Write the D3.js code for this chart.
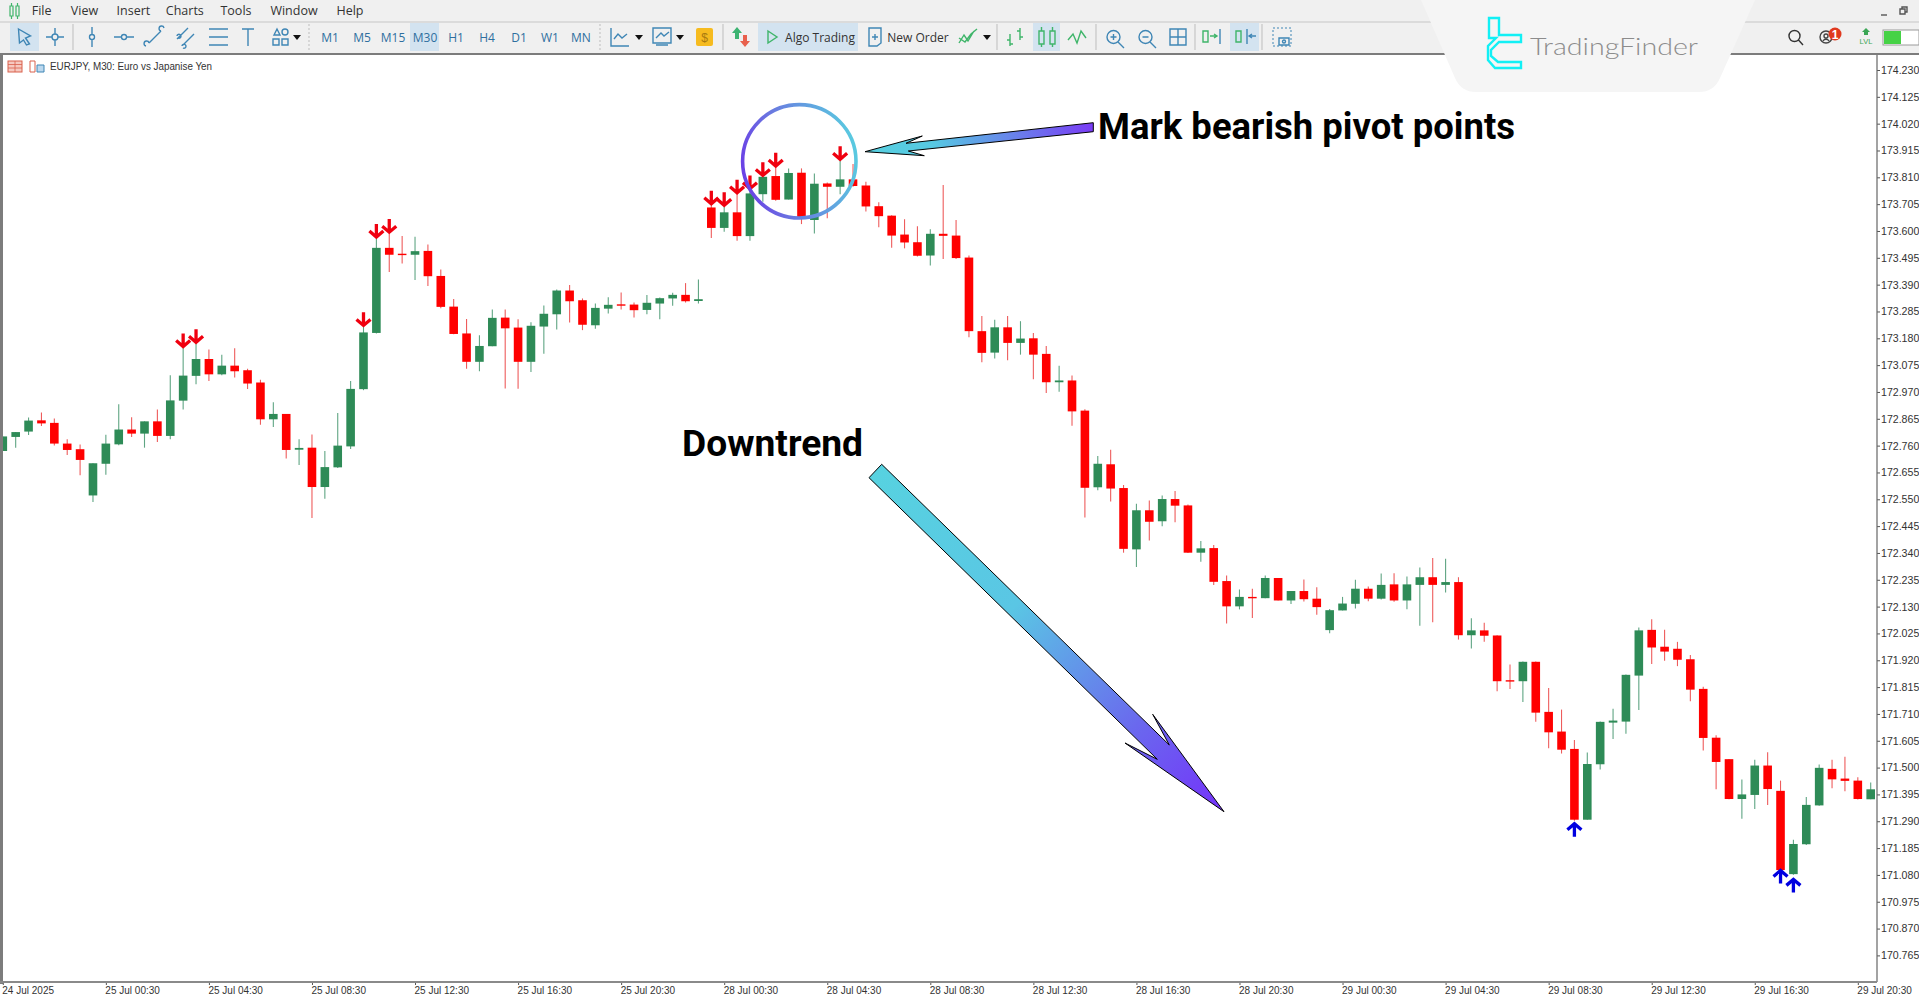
<!DOCTYPE html>
<html>
<head>
<meta charset="utf-8">
<script src="https://cdn.jsdelivr.net/npm/d3@7"></script>
<style>
  html, body { margin: 0; padding: 0; background: #fff; overflow: hidden; }
  svg { display: block; }
  text { font-family: "Liberation Sans", sans-serif; }
</style>
</head>
<body>
<div id="chart"></div>
<script>
// EURJPY M30 candles
const opens = [172.739,172.794,172.815,172.859,172.849,172.768,172.746,172.565,172.689,172.765,172.823,172.807,172.855,172.798,172.936,173.033,173.099,173.039,173.073,173.055,173.007,172.863,172.884,172.744,172.752,172.598,172.675,172.757,172.981,173.201,173.534,173.511,173.507,173.522,173.424,173.304,173.199,173.088,173.149,173.261,173.222,173.088,173.226,173.274,173.367,173.329,173.231,173.296,173.313,173.312,173.291,173.316,173.336,173.350,173.326,173.692,173.612,173.673,173.580,173.744,173.815,173.723,173.828,173.643,173.786,173.773,173.802,173.778,173.697,173.660,173.586,173.556,173.504,173.589,173.582,173.496,173.208,173.124,173.223,173.162,173.180,173.119,173.008,173.015,172.897,172.597,172.687,172.594,172.354,172.507,172.464,172.551,172.526,172.341,172.359,172.230,172.131,172.168,172.163,172.242,172.154,172.191,172.161,172.038,172.115,172.141,172.200,172.161,172.217,172.154,172.215,172.245,172.215,172.226,172.018,172.037,172.017,171.842,171.838,171.914,171.718,171.641,171.573,171.296,171.513,171.676,171.680,171.860,172.039,171.973,171.965,171.924,171.808,171.617,171.533,171.377,171.393,171.508,171.409,171.083,171.200,171.352,171.495,171.457,171.449,171.376];
const highs = [172.796,172.813,172.870,172.890,172.866,172.785,172.764,172.691,172.803,172.922,172.871,172.855,172.901,173.035,173.142,173.159,173.136,173.116,173.141,173.061,173.018,172.930,172.884,172.785,172.804,172.739,172.888,173.013,173.225,173.571,173.590,173.580,173.577,173.547,173.449,173.334,173.256,173.192,173.293,173.293,173.255,173.243,173.308,173.371,173.389,173.336,173.316,173.341,173.359,173.320,173.349,173.340,173.358,173.396,173.410,173.701,173.695,173.744,173.760,173.812,173.849,173.845,173.845,173.825,173.790,173.875,173.862,173.793,173.712,173.662,173.646,173.619,173.607,173.780,173.643,173.504,173.267,173.253,173.267,173.247,173.201,173.150,173.073,173.034,172.902,172.719,172.744,172.606,172.533,172.545,172.565,172.582,172.530,172.387,172.371,172.252,172.197,172.200,172.252,172.242,172.191,172.236,172.206,172.121,172.168,172.235,172.209,172.260,172.261,172.248,172.283,172.320,172.317,172.245,172.084,172.067,172.018,171.903,171.915,171.915,171.811,171.727,171.608,171.559,171.680,171.730,171.864,172.048,172.081,172.039,171.992,171.941,171.816,171.627,171.534,171.453,171.531,171.560,171.449,171.218,171.385,171.512,171.531,171.542,171.462,171.442];
const lows = [172.739,172.752,172.802,172.837,172.760,172.723,172.644,172.539,172.646,172.761,172.794,172.752,172.774,172.785,172.901,173.000,173.013,173.035,173.027,172.982,172.842,172.833,172.710,172.684,172.477,172.552,172.672,172.747,172.977,173.199,173.439,173.473,173.408,173.385,173.298,173.196,173.061,173.051,173.149,172.984,172.983,173.048,173.120,173.214,173.242,173.212,173.217,173.277,173.293,173.261,173.274,173.255,173.307,173.320,173.316,173.573,173.597,173.562,173.562,173.714,173.718,173.723,173.627,173.590,173.650,173.744,173.773,173.676,173.615,173.534,173.532,173.500,173.465,173.490,173.490,173.184,173.086,173.101,173.094,173.116,173.020,172.966,172.971,172.838,172.479,172.585,172.541,172.341,172.285,172.389,172.444,172.460,172.340,172.306,172.215,172.064,172.119,172.085,172.163,172.154,172.140,172.150,172.098,172.026,172.115,172.123,172.151,172.158,172.149,172.120,172.055,172.069,172.185,172.001,171.966,171.992,171.799,171.808,171.757,171.679,171.576,171.555,171.292,171.296,171.493,171.612,171.632,171.725,171.905,171.918,171.897,171.760,171.567,171.415,171.376,171.300,171.338,171.354,171.094,171.081,171.197,171.351,171.419,171.407,171.375,171.376];
const closes = [172.796,172.813,172.858,172.847,172.768,172.743,172.704,172.691,172.768,172.823,172.807,172.855,172.798,172.937,173.034,173.099,173.039,173.073,173.051,173.003,172.863,172.884,172.743,172.751,172.598,172.676,172.760,172.982,173.203,173.534,173.507,173.507,173.521,173.423,173.303,173.197,173.088,173.150,173.260,173.219,173.088,173.229,173.276,173.367,173.325,173.233,173.299,173.311,173.310,173.290,173.319,173.337,173.350,173.325,173.333,173.612,173.673,173.580,173.747,173.812,173.722,173.827,173.649,173.785,173.773,173.802,173.776,173.696,173.658,173.582,173.555,173.503,173.589,173.581,173.494,173.208,173.123,173.223,173.162,173.179,173.116,173.008,173.015,172.894,172.595,172.689,172.592,172.356,172.507,172.462,172.551,172.525,172.341,172.358,172.227,172.131,172.168,172.163,172.242,172.154,172.191,172.159,172.128,172.116,172.142,172.200,172.161,172.215,172.154,172.217,172.245,172.215,172.226,172.018,172.037,172.016,171.838,171.837,171.914,171.715,171.638,171.570,171.296,171.514,171.679,171.684,171.863,172.037,171.970,171.954,171.922,171.805,171.616,171.522,171.377,171.395,171.508,171.416,171.099,171.201,171.354,171.499,171.454,171.448,171.377,171.415];

// pivot indicator output: bars that got an arrow
const bearishPivots = [14,15,28,29,30,55,56,57,58,59,60,65];
const bullishPivots = [122,138,139];
const bullishPivotPrices = [171.286,171.103,171.068];

const priceTicks = [174.230,174.125,174.020,173.915,173.810,173.705,173.600,173.495,173.390,173.285,173.180,173.075,172.970,172.865,172.760,172.655,172.550,172.445,172.340,172.235,172.130,172.025,171.920,171.815,171.710,171.605,171.500,171.395,171.290,171.185,171.080,170.975,170.870,170.765];
const timeTickBars = [0,8,16,24,32,40,48,56,64,72,80,88,96,104,112,120,128,136,144];
const timeTickLabels = ['24 Jul 2025','25 Jul 00:30','25 Jul 04:30','25 Jul 08:30','25 Jul 12:30','25 Jul 16:30','25 Jul 20:30','28 Jul 00:30','28 Jul 04:30','28 Jul 08:30','28 Jul 12:30','28 Jul 16:30','28 Jul 20:30','29 Jul 00:30','29 Jul 04:30','29 Jul 08:30','29 Jul 12:30','29 Jul 16:30','29 Jul 20:30'];

const menuItems = ['File','View','Insert','Charts','Tools','Window','Help'];
const timeframes = ['M1','M5','M15','M30','H1','H4','D1','W1','MN'];

const canvasWidth = 1919;
const canvasHeight = 996;
const plot = {left: 3, right: 1877, top: 55, bottom: 982};
const bodyWidth = 8.6;

const xScale = d3.scaleLinear().domain([0, 145]).range([2.8, 1870.7]);
const yScale = d3.scaleLinear().domain([174.23, 170.765]).range([70, 955.4]);

const GREEN = '#2e8b57';
const RED = '#ff0000';
const ICON = '#3f86b5';
const ICON_GREEN = '#3fb56a';

const svg = d3.select('#chart').append('svg')
  .attr('width', canvasWidth)
  .attr('height', canvasHeight);

const defs = svg.append('defs');

const addGradient = (id, x1, y1, x2, y2, stops) => {
  const g = defs.append('linearGradient').attr('id', id)
    .attr('gradientUnits', 'userSpaceOnUse')
    .attr('x1', x1).attr('y1', y1).attr('x2', x2).attr('y2', y2);
  stops.forEach(([o, c]) => g.append('stop').attr('offset', o).attr('stop-color', c));
};
addGradient('ringGrad', 742, 175, 857, 150, [[0, '#6a3fe6'], [0.35, '#6a78e0'], [1, '#59cbe0']]);
addGradient('pointerGrad', 865, 150, 1093, 125, [[0, '#57d0e0'], [0.3, '#57c8e2'], [1, '#7a3cf5']]);
addGradient('trendGrad', 875, 470, 1224, 811, [[0, '#57d2e0'], [0.4, '#5ac6e4'], [0.75, '#6a68ee'], [1, '#7432fa']]);

defs.append('clipPath').attr('id', 'plotClip').append('rect')
  .attr('x', plot.left).attr('y', plot.top)
  .attr('width', plot.right - plot.left)
  .attr('height', plot.bottom - plot.top);

svg.append('rect').attr('width', canvasWidth).attr('height', canvasHeight).attr('fill', '#fff');

// ---- window chrome ----
const chrome = svg.append('g').attr('class', 'chrome');
chrome.append('rect').attr('width', canvasWidth).attr('height', plot.top - 1).attr('fill', '#f0f0f0');
chrome.append('line').attr('x1', 0).attr('x2', canvasWidth).attr('y1', 22).attr('y2', 22).attr('stroke', '#d4d4d4').attr('stroke-width', 1.5);
chrome.append('rect').attr('x', 0).attr('y', 53).attr('width', canvasWidth).attr('height', 2).attr('fill', '#7c7c7c');
chrome.append('rect').attr('x', 0).attr('y', 55).attr('width', 3).attr('height', plot.bottom - plot.top + 2).attr('fill', '#7c7c7c');

const menuX = [41.6, 84.5, 133.4, 184.8, 236, 294, 350];
chrome.selectAll('text.menu').data(menuItems).enter().append('text')
  .attr('class', 'menu')
  .attr('x', (d, i) => menuX[i]).attr('y', 15)
  .attr('text-anchor', 'middle')
  .attr('font-size', 12.5)
  .attr('fill', '#333')
  .style('font-family', '"Open Sans", sans-serif')
  .text(d => d);

// green candles glyph next to the menu
chrome.append('path').attr('d', 'M10,6 h3 v10 h-3 Z M16,6 h3 v10 h-3 Z M11.5,3 v3 M11.5,16 v3 M17.5,3 v3 M17.5,16 v3')
  .attr('fill', 'none').attr('stroke', ICON_GREEN).attr('stroke-width', 1.2);

// highlighted toolbar buttons
[[10, 29], [410, 29], [758, 100], [1033, 27], [1230, 29]].forEach(([x, w]) => {
  chrome.append('rect').attr('x', x).attr('y', 23).attr('width', w).attr('height', 28).attr('fill', '#d3e3f0');
});

// separators
[73, 997, 723, 1096, 1195, 1262].forEach(x => {
  chrome.append('line').attr('x1', x).attr('x2', x).attr('y1', 24).attr('y2', 50).attr('stroke', '#bdbdbd');
});
[309, 600].forEach(x => {
  chrome.append('line').attr('x1', x).attr('x2', x).attr('y1', 24).attr('y2', 50).attr('stroke', '#bdbdbd').attr('stroke-dasharray', '2 2');
});

const tfX = [330, 362, 393, 425, 456, 487, 519, 550, 581];
chrome.selectAll('text.tf').data(timeframes).enter().append('text')
  .attr('class', 'tf')
  .attr('x', (d, i) => tfX[i]).attr('y', 42)
  .attr('text-anchor', 'middle')
  .attr('font-size', 12)
  .attr('fill', '#2f6f9f')
  .style('font-family', '"Open Sans", sans-serif')
  .text(d => d);

const icon = (x, color, path, y = 37) => chrome.append('path')
  .attr('transform', `translate(${x}, ${y})`)
  .attr('d', path)
  .attr('fill', 'none')
  .attr('stroke', color)
  .attr('stroke-width', 1.4);
const caret = x => chrome.append('path')
  .attr('transform', `translate(${x}, 37)`)
  .attr('d', 'M-4,-2 L4,-2 L0,3 Z')
  .attr('fill', '#111');

icon(24.5, ICON, 'M-6,-8 L6,-1 L1,1 L5,7 L2,8 L-1,3 L-5,6 Z');
icon(55, ICON, 'M-9,0 H-3 M3,0 H9 M0,-9 V-3 M0,3 V9 M-3,0 A3,3 0 1 1 3,0 A3,3 0 1 1 -3,0');
icon(92, ICON, 'M0,-10 V-2 M0,3 V10 M-2.5,0 A2.5,2.5 0 1 1 2.5,0 A2.5,2.5 0 1 1 -2.5,0');
icon(124, ICON, 'M-10,0 H-3 M3,0 H10 M-2.5,0 A2.5,2.5 0 1 1 2.5,0 A2.5,2.5 0 1 1 -2.5,0');
icon(155, ICON, 'M-6,6 L6,-6 M-9,9 a2.5,2.5 0 1 1 3,-3 M6,-6 a2.5,2.5 0 1 1 3,-3');
icon(186, ICON, 'M-9,2 L2,-9 M-3,8 L8,-3 M-9,-1 a2,2 0 1 1 1,2 M-4,9 a2,2 0 1 1 1,2');
icon(218, ICON, 'M-6,-8 H10 M-6,0 H10 M-6,8 H10 M-9,-8 h3 M-9,0 h3 M-9,8 h3');
icon(248, ICON, 'M-6,-8 H6 M0,-8 V9');
icon(280, ICON, 'M-3,-8 L0,-2 L-6,-2 Z M8,-5 a3,3 0 1 1 -6,0 a3,3 0 1 1 6,0 M-7,2 h6 v6 h-6 Z M2,2 h6 v6 h-6 Z');
caret(297);
icon(620, ICON, 'M-9,-9 V9 H9 M-6,2 L-2,-3 L2,1 L7,-3');
caret(639);
icon(662, ICON, 'M-9,-9 H9 V6 H-9 Z M-6,8 H6 M-6,1 L-1,-4 L2,-1 L7,-5');
caret(680);
chrome.append('rect').attr('x', 696).attr('y', 28).attr('width', 17).attr('height', 18).attr('rx', 2).attr('fill', '#f6bb1f');
chrome.append('text').attr('x', 704.5).attr('y', 42).attr('text-anchor', 'middle').attr('font-size', 12).attr('fill', '#a87a10').text('$');
chrome.append('path').attr('transform', 'translate(737, 33)').attr('d', 'M0,-6 L5,0 H2 V6 H-2 V0 H-5 Z').attr('fill', '#3cb371');
chrome.append('path').attr('transform', 'translate(745, 41)').attr('d', 'M0,6 L5,0 H2 V-6 H-2 V0 H-5 Z').attr('fill', '#e8604c');
icon(772, ICON_GREEN, 'M-4,-6 L5,0 L-4,6 Z');
chrome.append('text').attr('x', 820).attr('y', 42).attr('text-anchor', 'middle').attr('font-size', 12).attr('fill', '#333').style('font-family', '"Open Sans", sans-serif').text('Algo Trading');
icon(875, ICON, 'M-6,-9 H6 V6 L2,9 H-6 Z M-3,0 H3 M0,-3 V3');
chrome.append('text').attr('x', 918).attr('y', 42).attr('text-anchor', 'middle').attr('font-size', 12).attr('fill', '#333').style('font-family', '"Open Sans", sans-serif').text('New Order');
icon(968, ICON_GREEN, 'M-9,6 L-4,-2 L0,4 L6,-6 M-9,1 L-3,5 L3,-3 L9,-8');
caret(987);
icon(1015, ICON_GREEN, 'M-5,-3 V9 M-8,3 H-5 M-5,7 H-2 M5,-9 V3 M2,-6 H5 M5,0 H8');
icon(1047, ICON_GREEN, 'M-8,-6 h5 v13 h-5 Z M3,-6 h5 v13 h-5 Z M-5.5,-10 v4 M-5.5,7 v3 M5.5,-10 v4 M5.5,7 v3');
icon(1077, ICON_GREEN, 'M-9,3 L-4,-3 L0,6 L4,-6 L9,1');
icon(1114, ICON, 'M6,0 A6.5,6.5 0 1 1 -7,0 A6.5,6.5 0 1 1 6,0 M4,5 L10,11 M-3.5,0 H2.5 M-0.5,-3 V3');
icon(1146, ICON, 'M6,0 A6.5,6.5 0 1 1 -7,0 A6.5,6.5 0 1 1 6,0 M4,5 L10,11 M-3.5,0 H2.5');
icon(1178, ICON, 'M-8,-8 H8 V8 H-8 Z M0,-8 V8 M-8,0 H8');
icon(1212, ICON_GREEN, 'M-9,-6 h5 v11 h-5 Z M-2,-1 H4 M2,-3 L5,-1 L2,1');
icon(1220, ICON, 'M0,-8 V7');
icon(1245, ICON_GREEN, 'M-9,-6 h5 v11 h-5 Z');
icon(1252, ICON, 'M-5,-8 V7 M4,-1 H-2 M0,-3 L-3,-1 L0,1');
chrome.append('rect').attr('x', 1273).attr('y', 28).attr('width', 18).attr('height', 18).attr('fill', 'none').attr('stroke', ICON).attr('stroke-dasharray', '2 2');
icon(1284, ICON, 'M-5,-1 h10 v7 h-10 Z M1.5,2.5 a1.5,1.5 0 1 1 -3,0 a1.5,1.5 0 1 1 3,0', 39);

// right end of the toolbar
icon(1795, '#333', 'M5,0 A5.5,5.5 0 1 1 -6,0 A5.5,5.5 0 1 1 5,0 M3.5,4 L8,9', 36);
icon(1826, '#444', 'M6,0 A6,6 0 1 1 -6,0 A6,6 0 1 1 6,0 M-3,4 a3.5,3.5 0 0 1 6,0 M2,-1 a2,2 0 1 1 -4,0 a2,2 0 1 1 4,0', 37);
chrome.append('circle').attr('cx', 1835).attr('cy', 34).attr('r', 6.5).attr('fill', '#e0391f');
chrome.append('text').attr('x', 1835).attr('y', 38.5).attr('text-anchor', 'middle').attr('font-size', 12).attr('font-weight', 700).attr('fill', '#fff').text('1');
chrome.append('text').attr('x', 1866).attr('y', 44).attr('text-anchor', 'middle').attr('font-size', 7.5).attr('fill', '#3aa655').text('LVL');
chrome.append('path').attr('transform', 'translate(1866, 32)').attr('d', 'M0,-4 L4,0 H2 V3 H-2 V0 H-4 Z').attr('fill', '#3aa655');
chrome.append('rect').attr('x', 1883).attr('y', 30).attr('width', 36).attr('height', 15).attr('fill', '#fff').attr('stroke', '#9a9a9a');
chrome.append('rect').attr('x', 1884).attr('y', 31).attr('width', 17).attr('height', 13).attr('fill', '#46d246');
icon(1884, '#555', 'M-3,2 H3', 13);
icon(1903, '#555', 'M-3,-2 h5 v5 h-5 Z M-1,-2 v-2 h5 v5 h-2', 11);

// ---- plot ----
const plotArea = svg.append('g').attr('clip-path', 'url(#plotClip)');

const candles = d3.range(opens.length).map(i => ({
  i,
  open: opens[i],
  high: highs[i],
  low: lows[i],
  close: closes[i],
  up: closes[i] >= opens[i],
}));

const candle = plotArea.selectAll('g.candle').data(candles).enter().append('g').attr('class', 'candle');

candle.append('line')
  .attr('x1', d => xScale(d.i))
  .attr('x2', d => xScale(d.i))
  .attr('y1', d => yScale(d.high))
  .attr('y2', d => yScale(d.low))
  .attr('stroke', d => (d.up ? '#5fa583' : '#ee5c5c'))
  .attr('stroke-width', 1.1);

candle.append('rect')
  .attr('x', d => xScale(d.i) - bodyWidth / 2)
  .attr('width', bodyWidth)
  .attr('y', d => yScale(Math.max(d.open, d.close)))
  .attr('height', d => Math.max(1.4, Math.abs(yScale(d.open) - yScale(d.close))))
  .attr('fill', d => (d.up ? GREEN : RED));

// indicator arrows, tip on the bar extreme
const downArrow = 'M0,-0.5 V-14.5 M-7,-7.4 L0,-1.4 L7,-7.4';
const upArrow = 'M0,0.5 V14.5 M-7,7.4 L0,1.4 L7,7.4';

plotArea.selectAll('path.bear').data(bearishPivots).enter().append('path')
  .attr('class', 'bear')
  .attr('transform', d => `translate(${xScale(d)}, ${yScale(highs[d])})`)
  .attr('d', downArrow)
  .attr('fill', 'none')
  .attr('stroke', '#f0000f')
  .attr('stroke-width', 3.3);

plotArea.selectAll('path.bull').data(bullishPivots).enter().append('path')
  .attr('class', 'bull')
  .attr('transform', (d, i) => `translate(${xScale(d)}, ${yScale(bullishPivotPrices[i])})`)
  .attr('d', upArrow)
  .attr('fill', 'none')
  .attr('stroke', '#0000e0')
  .attr('stroke-width', 3.3);

// ---- axes ----
const yAxis = d3.axisRight(yScale)
  .tickValues(priceTicks)
  .tickSize(3)
  .tickPadding(1)
  .tickFormat(d3.format('.3f'));

const yAxisG = svg.append('g')
  .attr('transform', `translate(${plot.right}, 0)`)
  .call(yAxis);
yAxisG.select('.domain').remove();
yAxisG.selectAll('text').attr('font-size', 10.6).attr('fill', '#333').style('font-family', '"Liberation Sans", sans-serif');
yAxisG.selectAll('line').attr('stroke', '#555');
svg.append('line').attr('x1', plot.right).attr('x2', plot.right).attr('y1', plot.top).attr('y2', plot.bottom).attr('stroke', '#666').attr('stroke-width', 1.2);

const xAxis = d3.axisBottom(xScale)
  .tickValues(timeTickBars)
  .tickSize(3)
  .tickPadding(2)
  .tickFormat((d, i) => timeTickLabels[i]);

const xAxisG = svg.append('g')
  .attr('transform', `translate(0, ${plot.bottom})`)
  .call(xAxis);
xAxisG.select('.domain').remove();
xAxisG.selectAll('text')
  .attr('text-anchor', 'start')
  .attr('dx', -1)
  .attr('font-size', 10)
  .attr('fill', '#333')
  .style('font-family', '"Liberation Sans", sans-serif');
xAxisG.selectAll('line').attr('stroke', '#555');
svg.append('rect').attr('x', 0).attr('y', plot.bottom - 1).attr('width', plot.right).attr('height', 2).attr('fill', '#8a8a8a');

// chart caption
const cap = svg.append('g');
cap.append('rect').attr('x', 8).attr('y', 61).attr('width', 14).attr('height', 11).attr('fill', '#f6c9c0').attr('stroke', '#d9604c');
cap.append('path').attr('d', 'M8,64.5 H22 M8,68 H22 M15,61 V72').attr('stroke', '#d9604c').attr('fill', 'none').attr('stroke-width', 0.8);
cap.append('path').attr('d', 'M30,61 h5 v11 h-5 Z').attr('fill', 'none').attr('stroke', '#d9604c');
cap.append('path').attr('d', 'M37,65 h7 v7 h-7 Z').attr('fill', '#bcd8ee').attr('stroke', '#3f86b5');
cap.append('text').attr('x', 50).attr('y', 70).attr('font-size', 10).attr('fill', '#333')
  .attr('textLength', 162).attr('lengthAdjust', 'spacingAndGlyphs')
  .text('EURJPY, M30:  Euro vs Japanise Yen');

// ---- annotations ----
svg.append('circle')
  .attr('cx', 799.3).attr('cy', 161.3).attr('r', 56.7)
  .attr('fill', 'none')
  .attr('stroke', 'url(#ringGrad)')
  .attr('stroke-width', 3.6);

const pointerArrow = [[865, 151.7], [922.3, 136], [906, 143.3], [1093.3, 122.7], [1093.3, 131.7], [908.3, 151], [924.3, 155.7]];
const trendArrow = [[881.7, 464.3], [1169.3, 745], [1152.7, 714.3], [1224, 811.7], [1125, 743], [1157.3, 759.3], [869, 477.7]];
const polyLine = d3.line().curve(d3.curveLinearClosed);

svg.append('path').attr('d', polyLine(pointerArrow)).attr('fill', 'url(#pointerGrad)').attr('stroke', '#000').attr('stroke-width', 1);
svg.append('path').attr('d', polyLine(trendArrow)).attr('fill', 'url(#trendGrad)').attr('stroke', '#000').attr('stroke-width', 1);

svg.append('text')
  .attr('x', 1098).attr('y', 139)
  .attr('font-size', 37)
  .attr('font-weight', 700)
  .attr('fill', '#000')
  .attr('textLength', 417)
  .attr('lengthAdjust', 'spacingAndGlyphs')
  .style('font-family', 'Roboto, sans-serif')
  .text('Mark bearish pivot points');

svg.append('text')
  .attr('x', 682).attr('y', 456)
  .attr('font-size', 37)
  .attr('font-weight', 700)
  .attr('fill', '#000')
  .attr('textLength', 181)
  .attr('lengthAdjust', 'spacingAndGlyphs')
  .style('font-family', 'Roboto, sans-serif')
  .text('Downtrend');

// ---- watermark panel ----
const brand = svg.append('g');
brand.append('path')
  .attr('d', 'M1421,0 L1455,78 Q1461,92 1476,92 L1699,92 Q1714,92 1720,78 L1755,0 Z')
  .attr('fill', '#f5f5f5');
brand.append('path')
  .attr('d', 'M1489,18 H1499 V35 L1521,35 V42 H1499 L1491,50 V56 L1498,62 H1521 V68 H1495 L1488,60 V46 L1496,38 H1489 Z')
  .attr('fill', 'none')
  .attr('stroke', '#12f0f5')
  .attr('stroke-width', 2.4);
brand.append('text')
  .attr('x', 1530).attr('y', 55)
  .attr('font-size', 24)
  .attr('fill', '#8c8c8c')
  .attr('textLength', 168)
  .attr('lengthAdjust', 'spacingAndGlyphs')
  .style('font-family', 'Lato, sans-serif')
  .style('font-weight', 300)
  .text('TradingFinder');
</script>
</body>
</html>
